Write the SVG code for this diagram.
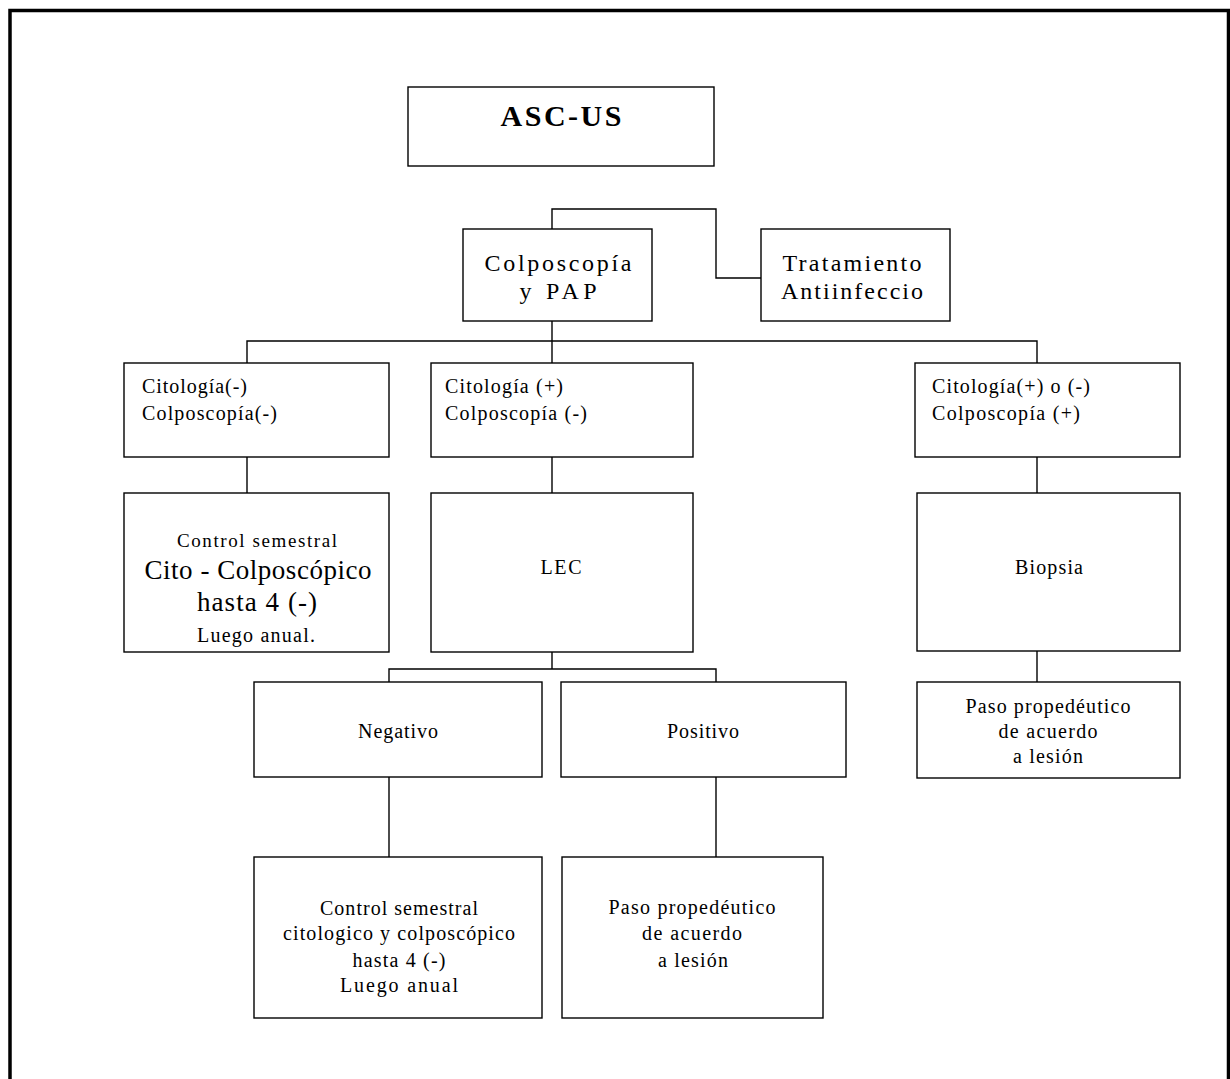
<svg xmlns="http://www.w3.org/2000/svg" width="1230" height="1079" viewBox="0 0 1230 1079">
<style>
  .box { fill: #ffffff; stroke: #000000; stroke-width: 1.4; }
  .conn { fill: none; stroke: #000000; stroke-width: 1.4; }
  text { font-family: "Liberation Serif", "Times New Roman", serif; fill: #000000; }
  .c { text-anchor: middle; }
  .s20 { font-size: 20px; }
  .s24 { font-size: 24px; }
  .s27 { font-size: 27px; }
</style>
<rect x="0" y="0" width="1230" height="1079" fill="#ffffff"/>
<path d="M10,1090 V10.5 H1228.5 V1090" fill="none" stroke="#000000" stroke-width="3.5"/>

<g id="connectors">
  <path class="conn" d="M552,229 V209 H716 V278 H761"/>
  <path class="conn" d="M552,321 V363"/>
  <path class="conn" d="M247,363 V341 H1037 V363"/>
  <path class="conn" d="M247,457 V493"/>
  <path class="conn" d="M552,457 V493"/>
  <path class="conn" d="M1037,457 V493"/>
  <path class="conn" d="M1037,651 V682"/>
  <path class="conn" d="M552,652 V669"/>
  <path class="conn" d="M389,682 V669 H716 V682"/>
  <path class="conn" d="M389,777 V857"/>
  <path class="conn" d="M716,777 V857"/>
</g>

<g id="asc-us">
  <rect class="box" x="408" y="87" width="306" height="79"/>
  <text class="c" x="561" y="126" font-size="30" font-weight="bold" textLength="121">ASC-US</text>
</g>

<g id="colposcopia-pap">
  <rect class="box" x="463" y="229" width="189" height="92"/>
  <text class="c s24" x="558" y="271" textLength="147">Colposcopía</text>
  <text class="c s24" x="558" y="299" textLength="77">y PAP</text>
</g>

<g id="tratamiento">
  <rect class="box" x="761" y="229" width="189" height="92"/>
  <text class="c s24" x="852" y="271" textLength="139">Tratamiento</text>
  <text class="c s24" x="852" y="299" textLength="142">Antiinfeccio</text>
</g>

<g id="cito-neg-colpo-neg">
  <rect class="box" x="124" y="363" width="265" height="94"/>
  <text class="s20" x="142" y="393" textLength="105">Citología(-)</text>
  <text class="s20" x="142" y="420" textLength="135">Colposcopía(-)</text>
</g>

<g id="cito-pos-colpo-neg">
  <rect class="box" x="431" y="363" width="262" height="94"/>
  <text class="s20" x="445" y="393" textLength="118">Citología (+)</text>
  <text class="s20" x="445" y="420" textLength="142">Colposcopía (-)</text>
</g>

<g id="cito-any-colpo-pos">
  <rect class="box" x="915" y="363" width="265" height="94"/>
  <text class="s20" x="932" y="393" textLength="158">Citología(+) o (-)</text>
  <text class="s20" x="932" y="420" textLength="148">Colposcopía (+)</text>
</g>

<g id="control-semestral-1">
  <rect class="box" x="124" y="493" width="265" height="159"/>
  <text class="c" x="257" y="547" font-size="19" textLength="160">Control semestral</text>
  <text class="c s27" x="258" y="579" textLength="227">Cito - Colposcópico</text>
  <text class="c s27" x="257" y="611" textLength="120">hasta 4 (-)</text>
  <text class="c s20" x="256" y="642" textLength="118">Luego anual.</text>
</g>

<g id="lec">
  <rect class="box" x="431" y="493" width="262" height="159"/>
  <text class="c s20" x="561" y="574" textLength="41">LEC</text>
</g>

<g id="biopsia">
  <rect class="box" x="917" y="493" width="263" height="158"/>
  <text class="c s20" x="1049" y="574" textLength="68">Biopsia</text>
</g>

<g id="paso-1">
  <rect class="box" x="917" y="682" width="263" height="96"/>
  <text class="c s20" x="1048" y="713" textLength="165">Paso propedéutico</text>
  <text class="c s20" x="1048" y="738" textLength="99">de acuerdo</text>
  <text class="c s20" x="1048" y="763" textLength="70">a lesión</text>
</g>

<g id="negativo">
  <rect class="box" x="254" y="682" width="288" height="95"/>
  <text class="c s20" x="398" y="738" textLength="80">Negativo</text>
</g>

<g id="positivo">
  <rect class="box" x="561" y="682" width="285" height="95"/>
  <text class="c s20" x="703" y="738" textLength="72">Positivo</text>
</g>

<g id="control-semestral-2">
  <rect class="box" x="254" y="857" width="288" height="161"/>
  <text class="c s20" x="399" y="915" textLength="158">Control semestral</text>
  <text class="c s20" x="399" y="940" textLength="232">citologico y colposcópico</text>
  <text class="c s20" x="399" y="967" textLength="93">hasta 4 (-)</text>
  <text class="c s20" x="399" y="992" textLength="118">Luego  anual</text>
</g>

<g id="paso-2">
  <rect class="box" x="562" y="857" width="261" height="161"/>
  <text class="c s20" x="692" y="914" textLength="167">Paso propedéutico</text>
  <text class="c s20" x="692" y="940" textLength="100">de acuerdo</text>
  <text class="c s20" x="693" y="967" textLength="70">a lesión</text>
</g>
</svg>
